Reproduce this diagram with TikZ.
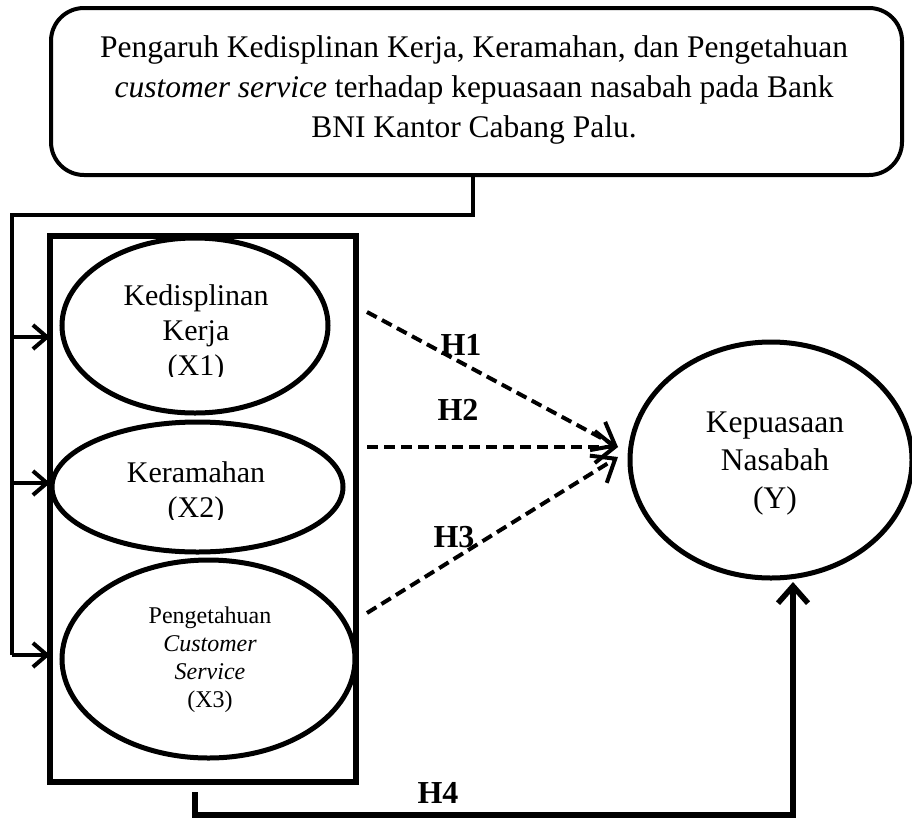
\documentclass[tikz,border=0pt]{standalone}
\usepackage{fontspec}
\setmainfont{Liberation Serif}
\usetikzlibrary{arrows.meta,shapes.geometric,calc}
\begin{document}
\begin{tikzpicture}[x=1pt,y=-1pt,
  every node/.style={inner sep=0pt, outer sep=0pt},
  titlebox/.style={draw, line width=4pt, rounded corners=33pt, minimum width=851pt, minimum height=167pt},
  titletxt/.style={align=center, font=\fontsize{31.5}{40}\selectfont},
  oval/.style={draw, ellipse, line width=5pt},
  frame/.style={draw, line width=6pt},
  link/.style={line width=4pt},
  inarrow/.style={link, -{Straight Barb[length=14pt,width=24pt]}},
  hyp/.style={line width=4pt, dash pattern=on 11pt off 6pt, -{Straight Barb[length=20pt,width=32pt]}},
  lbl/.style={align=center, font=\fontsize{30}{35}\selectfont},
  ylbl/.style={align=center, font=\fontsize{31.5}{38}\selectfont},
  smalllbl/.style={align=center, font=\fontsize{24}{28}\selectfont},
  hlbl/.style={font=\fontsize{32}{32}\selectfont\bfseries},
  hfour/.style={line width=5.5pt, -{Straight Barb[length=17pt,width=30pt]}}
]
\useasboundingbox (0,0) rectangle (912,819);

% title box
\node[titlebox] (top) at (476.5,91.5) {};
\node[titletxt] (title) at (474,90) {Pengaruh Kedisplinan Kerja, Keramahan, dan Pengetahuan\\
\textit{customer service} terhadap kepuasaan nasabah pada Bank\\
BNI Kantor Cabang Palu.};

% frame of independent variables
\node[frame, minimum width=306pt, minimum height=546pt] (box) at (203,509) {};

% ellipses
\node[oval, minimum width=266pt, minimum height=175pt] (e1) at (195,325.5) {};
\node[oval, minimum width=291pt, minimum height=130pt] (e2) at (197.5,487) {};
\node[oval, minimum width=293pt, minimum height=198pt] (e3) at (208.5,659) {};
\node[oval, minimum width=282pt, minimum height=236pt] (ey) at (771,460) {};

\begin{scope}
  \clip (40,240) rectangle (360,376);
  \node[lbl] (t1) at (196,333) {Kedisplinan\\Kerja\\(X1)};
\end{scope}
\begin{scope}
  \clip (40,430) rectangle (360,519);
  \node[lbl] (t2) at (196,493) {Keramahan\\(X2)};
\end{scope}
\node[smalllbl] (t3) at (210,660) {Pengetahuan\\\textit{Customer}\\\textit{Service}\\(X3)};
\node[ylbl] (ty) at (775,464) {Kepuasaan\\Nasabah\\(Y)};

% connector from title to frame
\coordinate (j1) at (473,215);
\coordinate (j2) at (12,215);
\coordinate (a1) at (12,337);
\coordinate (a2) at (12,483);
\coordinate (a3) at (12,655);
\draw[link] (top.south -| j1) -- (j1) -- (j2) -- (a3);
\draw[inarrow] (a1) -- (a1 -| box.west);
\draw[inarrow] (a2) -- (a2 -| box.west);
\draw[inarrow] (a3) -- (a3 -| box.west);

% hypotheses
\coordinate (s1) at (367,312);
\coordinate (s2) at (367,447);
\coordinate (s3) at (367,613);
\coordinate (g12) at (618,447);
\coordinate (g3) at (618,457);
\draw[hyp] (s1) -- (g12);
\draw[hyp] (s2) -- (g12);
\draw[hyp] (s3) -- (g3);

\coordinate (b1) at (195,792);
\coordinate (b2) at (195,815);
\coordinate (b3) at (793,815);
\coordinate (b4) at (793,582);
\draw[hfour] (b1) -- (b2) -- (b3) -- (b4);

\node[hlbl] (h1) at (461,345) {H1};
\node[hlbl] (h2) at (458,410) {H2};
\node[hlbl] (h3) at (454,537) {H3};
\node[hlbl] (h4) at (438,793) {H4};
\end{tikzpicture}
\end{document}
